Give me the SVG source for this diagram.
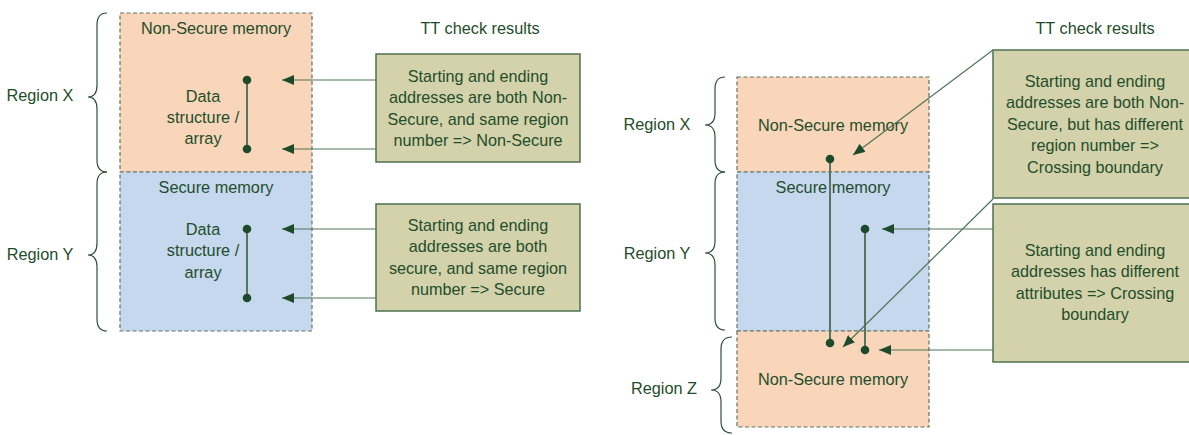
<svg xmlns="http://www.w3.org/2000/svg" width="1189" height="435" viewBox="0 0 1189 435">
  <defs>
    <marker id="arrow" viewBox="0 0 12 10" refX="12" refY="5" markerWidth="12" markerHeight="10" markerUnits="userSpaceOnUse" orient="auto">
      <path d="M0,0 L12,5 L0,10 Z" fill="#1d4a2a"/>
    </marker>
    <style>
      text { font-family: "Liberation Sans", Arial, sans-serif; font-size: 16.3px; fill: #1f4d2c; }
      .mid { text-anchor: middle; }
      .box { font-size: 16.2px; }
      .ns { fill: #f9d6ba; stroke: #5e7464; stroke-width: 1.2; stroke-dasharray: 4 2.5; }
      .sec { fill: #c6d8ee; stroke: #5e7464; stroke-width: 1.2; stroke-dasharray: 4 2.5; }
      .result { fill: #d3d2aa; stroke: #4e7053; stroke-width: 1.5; }
      .brace { fill: none; stroke: #2f5038; stroke-width: 1.2; }
      .span { stroke: #56775e; stroke-width: 2; }
      .dot { fill: #1d4a2a; }
      .conn { stroke: #4e7457; stroke-width: 1.2; fill: none; }
    </style>
  </defs>

  <!-- Left: range entirely inside one region -->
  <g id="left-region-x-brace">
    <path class="brace" d="M107,13 Q97,13 97,25 L97,85 Q97,97 88,97 Q97,97 97,109 L97,160 Q97,172 107,172"/>
    <text x="40" y="101" class="mid">Region X</text>
  </g>
  <g id="left-region-y-brace">
    <path class="brace" d="M107,172 Q97,172 97,184 L97,243 Q97,255 88,255 Q97,255 97,267 L97,319 Q97,331 107,331"/>
    <text x="40" y="260" class="mid">Region Y</text>
  </g>
  <g id="left-nonsecure">
    <rect class="ns" x="120" y="13" width="192" height="159"/>
    <text x="216" y="34" class="mid">Non-Secure memory</text>
    <text x="203" y="102" class="mid">Data</text>
    <text x="203" y="123" class="mid">structure /</text>
    <text x="203" y="144" class="mid">array</text>
    <line class="span" x1="247" y1="80" x2="247" y2="149"/>
    <circle class="dot" cx="247" cy="80" r="4.3"/>
    <circle class="dot" cx="247" cy="149" r="4.3"/>
  </g>
  <g id="left-secure">
    <rect class="sec" x="120" y="172" width="192" height="159"/>
    <text x="216" y="193" class="mid">Secure memory</text>
    <text x="203" y="235" class="mid">Data</text>
    <text x="203" y="256" class="mid">structure /</text>
    <text x="203" y="278" class="mid">array</text>
    <line class="span" x1="247" y1="229" x2="247" y2="298"/>
    <circle class="dot" cx="247" cy="229" r="4.3"/>
    <circle class="dot" cx="247" cy="298" r="4.3"/>
  </g>
  <text x="480" y="34" class="mid">TT check results</text>
  <g id="left-result-ns">
    <rect class="result" x="376" y="54" width="204" height="108"/>
    <text x="478" y="82" class="mid box">Starting and ending</text>
    <text x="478" y="103" class="mid box">addresses are both Non-</text>
    <text x="478" y="125" class="mid box">Secure, and same region</text>
    <text x="478" y="146" class="mid box">number =&gt; Non-Secure</text>
  </g>
  <g id="left-result-s">
    <rect class="result" x="376" y="204" width="204" height="107"/>
    <text x="478" y="231" class="mid box">Starting and ending</text>
    <text x="478" y="252" class="mid box">addresses are both</text>
    <text x="478" y="274" class="mid box">secure, and same region</text>
    <text x="478" y="295" class="mid box">number =&gt; Secure</text>
  </g>

  <!-- Right: ranges that cross a boundary -->
  <g id="right-region-x-brace">
    <path class="brace" d="M725,77 Q715,77 715,89 L715,113 Q715,125 705,125 Q715,125 715,137 L715,160 Q715,172 725,172"/>
    <text x="657" y="130" class="mid">Region X</text>
  </g>
  <g id="right-region-y-brace">
    <path class="brace" d="M725,172 Q715,172 715,184 L715,241 Q715,253 705,253 Q715,253 715,265 L715,318 Q715,330 725,330"/>
    <text x="657" y="259" class="mid">Region Y</text>
  </g>
  <g id="right-region-z-brace">
    <path class="brace" d="M732,337 Q721,337 721,349 L721,378 Q721,390 711,390 Q721,390 721,402 L721,421 Q721,433 732,433"/>
    <text x="664" y="394" class="mid">Region Z</text>
  </g>
  <g id="right-nonsecure-x">
    <rect class="ns" x="737" y="77" width="192" height="95"/>
    <text x="833" y="131" class="mid">Non-Secure memory</text>
  </g>
  <g id="right-secure-y">
    <rect class="sec" x="737" y="172" width="192" height="159"/>
    <text x="833" y="193" class="mid">Secure memory</text>
  </g>
  <g id="right-nonsecure-z">
    <rect class="ns" x="737" y="331" width="192" height="96"/>
    <text x="833" y="385" class="mid">Non-Secure memory</text>
  </g>
  <g id="right-ranges">
    <line class="span" x1="830" y1="159" x2="830" y2="343"/>
    <circle class="dot" cx="830" cy="159" r="4.3"/>
    <circle class="dot" cx="830" cy="343" r="4.3"/>
    <line class="span" x1="865" y1="229" x2="865" y2="350"/>
    <circle class="dot" cx="865" cy="229" r="4.3"/>
    <circle class="dot" cx="865" cy="350" r="4.3"/>
  </g>
  <text x="1095" y="34" class="mid">TT check results</text>
  <g id="right-result-region">
    <rect class="result" x="993" y="50" width="200" height="148"/>
    <text x="1095" y="87" class="mid box">Starting and ending</text>
    <text x="1095" y="108" class="mid box">addresses are both Non-</text>
    <text x="1095" y="130" class="mid box">Secure, but has different</text>
    <text x="1095" y="151" class="mid box">region number =&gt;</text>
    <text x="1095" y="173" class="mid box">Crossing boundary</text>
  </g>
  <g id="right-result-attr">
    <rect class="result" x="993" y="204" width="200" height="158"/>
    <text x="1095" y="256" class="mid box">Starting and ending</text>
    <text x="1095" y="277" class="mid box">addresses has different</text>
    <text x="1095" y="299" class="mid box">attributes =&gt; Crossing</text>
    <text x="1095" y="320" class="mid box">boundary</text>
  </g>

  <!-- Connectors from results to range endpoints -->
  <g id="connectors">
    <line class="conn" x1="376" y1="80" x2="282" y2="80" marker-end="url(#arrow)"/>
    <line class="conn" x1="376" y1="149" x2="282" y2="149" marker-end="url(#arrow)"/>
    <line class="conn" x1="376" y1="229" x2="282" y2="229" marker-end="url(#arrow)"/>
    <line class="conn" x1="376" y1="298" x2="282" y2="298" marker-end="url(#arrow)"/>
    <line class="conn" x1="993" y1="50" x2="853" y2="155" marker-end="url(#arrow)"/>
    <line class="conn" x1="993" y1="199" x2="843" y2="347" marker-end="url(#arrow)"/>
    <line class="conn" x1="993" y1="229" x2="882" y2="229" marker-end="url(#arrow)"/>
    <line class="conn" x1="993" y1="350" x2="879" y2="350" marker-end="url(#arrow)"/>
  </g>
</svg>
